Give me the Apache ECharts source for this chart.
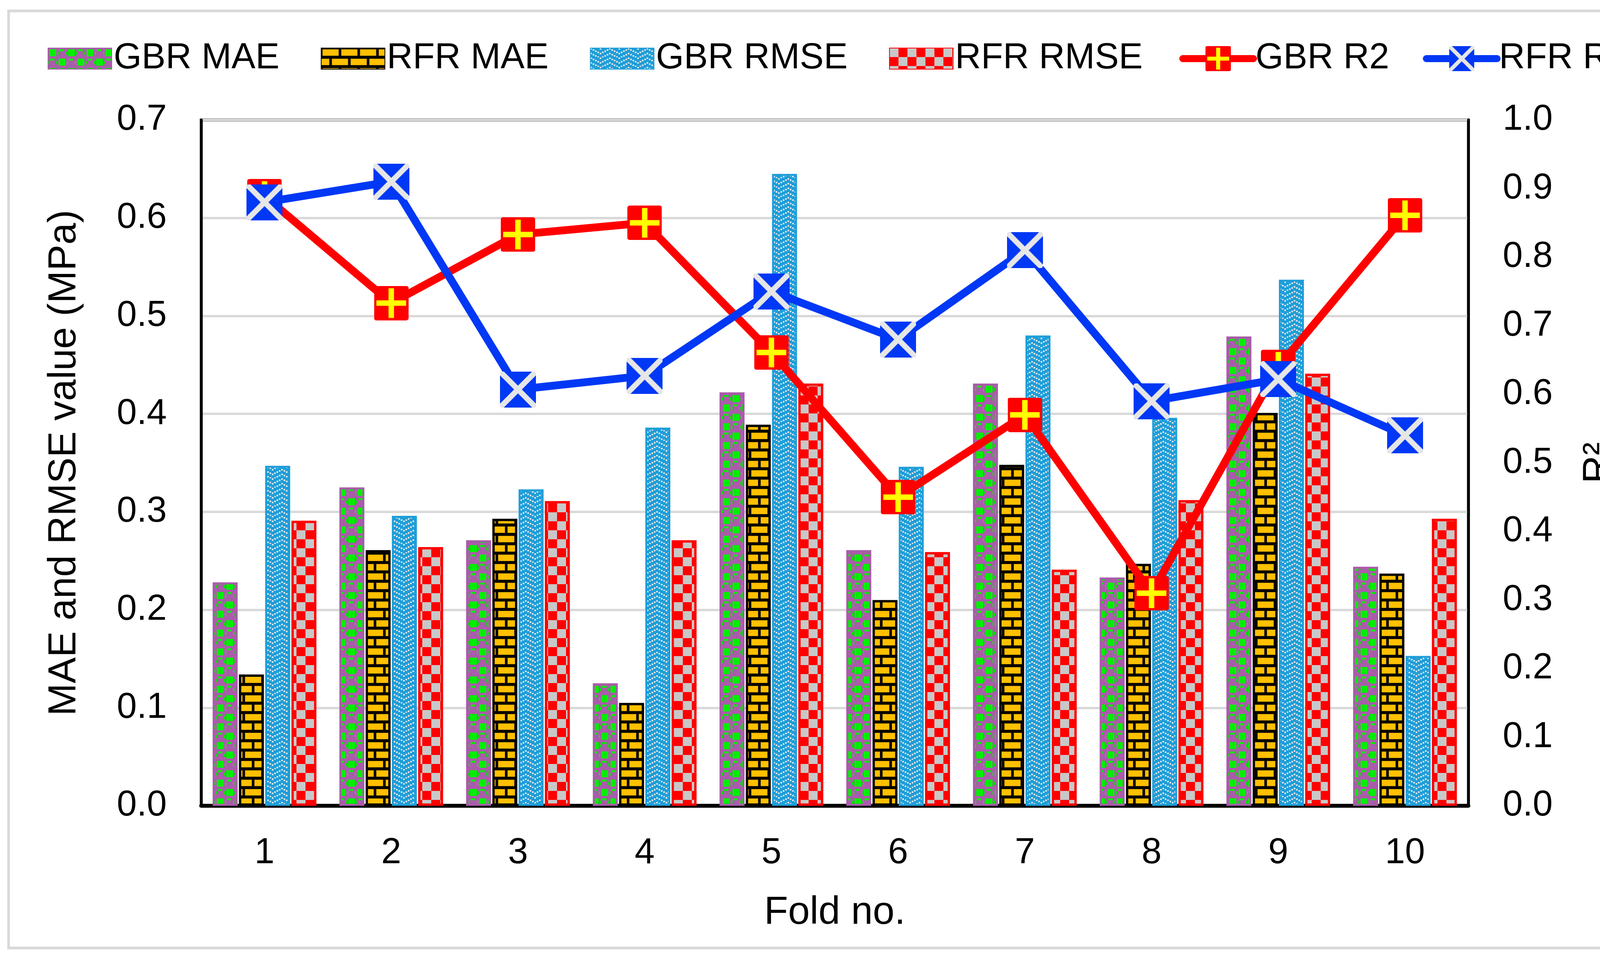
<!DOCTYPE html>
<html><head><meta charset="utf-8">
<script src="https://cdn.jsdelivr.net/npm/echarts@6/dist/echarts.min.js"></script>
<style>html,body{margin:0;padding:0;background:#fff;overflow:hidden}#c{width:4253px;height:2449px}</style>
</head><body><div id="c"></div>
<script>
// ---- data ----
const folds = ['1','2','3','4','5','6','7','8','9','10'];
const gbrMAE  = [0.228,0.325,0.271,0.125,0.422,0.261,0.431,0.233,0.479,0.244];
const rfrMAE  = [0.134,0.261,0.293,0.105,0.389,0.210,0.348,0.247,0.401,0.237];
const gbrRMSE = [0.347,0.296,0.323,0.386,0.645,0.346,0.480,0.396,0.537,0.153];
const rfrRMSE = [0.291,0.264,0.311,0.271,0.431,0.259,0.241,0.312,0.441,0.293];
const gbrR2   = [0.889,0.733,0.833,0.850,0.661,0.450,0.570,0.310,0.640,0.861];
const rfrR2   = [0.880,0.910,0.607,0.627,0.750,0.680,0.810,0.590,0.622,0.540];
const leftTickLabels  = ['0.0','0.1','0.2','0.3','0.4','0.5','0.6','0.7'];
const rightTickLabels = ['0.0','0.1','0.2','0.3','0.4','0.5','0.6','0.7','0.8','0.9','1.0'];

const FONT = 'Liberation Sans, Arial, sans-serif';
function tile(w,h,draw){const c=document.createElement('canvas');c.width=w;c.height=h;draw(c.getContext('2d'),w,h);return c;}

// patterns
const PURPLE='#a95ca9', GREEN='#00ee00', GOLD='#ffc000', BLUEBAR='#1e9ed9', RED='#ff0000', LINEBLUE='#0038f5';
const sphere = tile(48,48,g=>{
  g.fillStyle=PURPLE;g.fillRect(0,0,48,48);g.fillStyle=GREEN;
  g.fillRect(3,3,18,18); g.fillRect(27,27,18,18);
  g.fillRect(29,3,12,5); g.fillRect(5,27,12,5);
  g.fillRect(24,9,3,8); g.fillRect(45,9,3,8); g.fillRect(0,33,3,8); g.fillRect(21,33,3,8);
});
const bricks = tile(48,48,g=>{
  g.fillStyle='#000';g.fillRect(0,0,48,48);
  g.fillStyle='#b08000';g.fillRect(3,3,42,17);g.fillRect(27,27,21,17);g.fillRect(0,27,21,17);
  g.fillStyle=GOLD;g.fillRect(4,4,40,15);g.fillRect(28,28,20,15);g.fillRect(0,28,20,15);
});
const weave = tile(48,24,g=>{
  g.fillStyle=BLUEBAR;g.fillRect(0,0,48,24);g.fillStyle='#e6e6e6';
  for(let i=0;i<8;i++){const x=i*6;const y=12-Math.abs(x-24)/2;g.fillRect(x,y,4,4);g.fillRect(x,(y+12)%24,4,4);}
});
const checker = tile(46,46,g=>{
  g.fillStyle=RED;g.fillRect(0,0,46,46);g.fillStyle='#c8c8c8';g.fillRect(0,0,23,23);g.fillRect(23,23,23,23);
});

function rr(g,x,y,w,h,r){g.beginPath();g.moveTo(x+r,y);g.lineTo(x+w-r,y);g.quadraticCurveTo(x+w,y,x+w,y+r);g.lineTo(x+w,y+h-r);g.quadraticCurveTo(x+w,y+h,x+w-r,y+h);g.lineTo(x+r,y+h);g.quadraticCurveTo(x,y+h,x,y+h-r);g.lineTo(x,y+r);g.quadraticCurveTo(x,y,x+r,y);g.closePath();}
const blueMark = tile(184,184,g=>{
  rr(g,0,0,184,184,14);g.fillStyle=LINEBLUE;g.fill();g.save();g.clip();
  g.strokeStyle='#e6e6e6';g.lineWidth=28;g.beginPath();g.moveTo(0,0);g.lineTo(184,184);g.moveTo(184,0);g.lineTo(0,184);g.stroke();g.restore();
});
const redMark = tile(176,176,g=>{
  rr(g,0,0,176,176,12);g.fillStyle=RED;g.fill();
  g.fillStyle='#ffff00';g.fillRect(74,12,28,152);g.fillRect(12,74,152,28);
});
const blueSym='image://'+blueMark.toDataURL();
const redSym='image://'+redMark.toDataURL();

const chart = echarts.init(document.getElementById('c'));
const barCommon = {type:'bar', barWidth:64, barGap:'5%', yAxisIndex:0};
chart.setOption({
  animation:false,
  backgroundColor:'#fff',
  textStyle:{fontFamily:FONT},
  graphic:[{type:'rect',shape:{x:22,y:28,width:4203,height:2398},style:{fill:'none',stroke:'#d9d9d9',lineWidth:7},silent:true,z:-1}],
  legend:[
    {data:['GBR MAE','RFR MAE','GBR RMSE','RFR RMSE'],left:122,top:104,padding:0,itemWidth:163,itemHeight:54,itemGap:106,icon:'rect',
     textStyle:{fontSize:92,color:'#000',fontFamily:FONT},selectedMode:false},
    {data:['GBR R2','RFR R2'],left:3019,top:104,padding:0,itemWidth:181,itemHeight:81,itemGap:86,
     lineStyle:{width:18},
     textStyle:{fontSize:92,color:'#000',fontFamily:FONT},selectedMode:false}
  ],
  grid:{left:515,top:307,width:3244,height:1755,show:true,borderColor:'#000',borderWidth:7,containLabel:false},
  xAxis:{type:'category',data:folds,
    axisLine:{lineStyle:{color:'#000',width:10}},axisTick:{show:false},
    axisLabel:{fontSize:92,color:'#000',margin:76,fontFamily:FONT},
    name:'Fold no.',nameLocation:'middle',nameGap:224,nameTextStyle:{fontSize:100,color:'#000',fontFamily:FONT}},
  yAxis:[
    {type:'value',min:0,max:0.7,interval:0.1,
     axisLine:{show:true,lineStyle:{color:'#000',width:7}},axisTick:{show:false},
     axisLabel:{fontSize:92,color:'#000',margin:88,fontFamily:FONT,formatter:v=>leftTickLabels[Math.round(v*10)]},
     splitLine:{lineStyle:{color:'#d9d9d9',width:6}},
     name:'MAE and RMSE value (MPa)',nameLocation:'middle',nameRotate:90,nameGap:300,
     nameTextStyle:{fontSize:100,color:'#000',fontFamily:FONT}},
    {type:'value',min:0,max:1.0,interval:0.1,position:'right',
     axisLine:{show:true,lineStyle:{color:'#000',width:7}},axisTick:{show:false},
     axisLabel:{fontSize:92,color:'#000',margin:88,fontFamily:FONT,formatter:v=>rightTickLabels[Math.round(v*10)]},
     splitLine:{show:false},
     name:'R²',nameLocation:'middle',nameRotate:90,nameGap:285,
     nameTextStyle:{fontSize:100,color:'#000',fontFamily:FONT}}
  ],
  series:[
    Object.assign({name:'GBR MAE',data:gbrMAE,itemStyle:{color:{image:sphere,repeat:'repeat'},borderColor:PURPLE,borderWidth:5}},barCommon),
    Object.assign({name:'RFR MAE',data:rfrMAE,itemStyle:{color:{image:bricks,repeat:'repeat'},borderColor:'#000',borderWidth:6}},barCommon),
    Object.assign({name:'GBR RMSE',data:gbrRMSE,itemStyle:{color:{image:weave,repeat:'repeat'},borderColor:BLUEBAR,borderWidth:5}},barCommon),
    Object.assign({name:'RFR RMSE',data:rfrRMSE,itemStyle:{color:{image:checker,repeat:'repeat'},borderColor:RED,borderWidth:6}},barCommon),
    {name:'GBR R2',type:'line',yAxisIndex:1,data:gbrR2,symbol:redSym,symbolSize:88,showAllSymbol:true,
     lineStyle:{color:RED,width:20,cap:'round',join:'round'},itemStyle:{color:RED}},
    {name:'RFR R2',type:'line',yAxisIndex:1,data:rfrR2,symbol:blueSym,symbolSize:92,showAllSymbol:true,
     lineStyle:{color:LINEBLUE,width:20,cap:'round',join:'round'},itemStyle:{color:LINEBLUE}}
  ]
});
</script></body></html>
